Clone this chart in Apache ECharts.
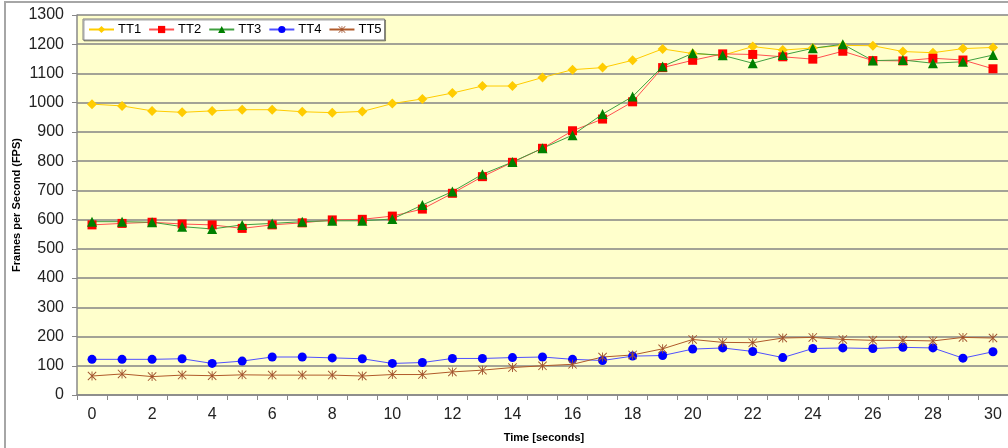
<!DOCTYPE html>
<html>
<head>
<meta charset="utf-8">
<script src="https://cdn.jsdelivr.net/npm/echarts@6/dist/echarts.min.js"></script>
<style>
html,body{margin:0;padding:0;background:#fff;}
#c{width:1008px;height:448px;}
</style>
</head>
<body>
<div id="c"></div>
<script>
const categories = ['0','1','2','3','4','5','6','7','8','9','10','11','12','13','14','15','16','17','18','19','20','21','22','23','24','25','26','27','28','29','30'];
const seriesNames = ['TT1','TT2','TT3','TT4','TT5'];
const tt1 = [995, 989, 972, 967, 972, 976, 976, 969, 966, 970, 997, 1013, 1033, 1057, 1057, 1086, 1113, 1120, 1145, 1184, 1168, 1162, 1192, 1180, 1187, 1196, 1195, 1175, 1171, 1185, 1189];
const tt2 = [582, 587, 591, 585, 582, 570, 582, 589, 599, 601, 612, 636, 690, 747, 796, 844, 904, 944, 1003, 1120, 1145, 1167, 1165, 1157, 1149, 1176, 1144, 1143, 1152, 1146, 1116];
const tt3 = [593, 593, 591, 576, 568, 582, 587, 593, 596, 596, 602, 650, 696, 755, 797, 844, 889, 961, 1021, 1124, 1169, 1162, 1135, 1163, 1186, 1200, 1144, 1146, 1135, 1140, 1163];
const tt4 = [122, 122, 122, 124, 108, 116, 130, 130, 127, 124, 108, 111, 125, 125, 128, 130, 122, 118, 133, 135, 157, 161, 149, 128, 159, 161, 159, 163, 161, 126, 148];
const tt5 = [65, 72, 63, 68, 66, 69, 68, 68, 68, 65, 70, 70, 79, 85, 94, 100, 105, 130, 137, 158, 190, 180, 179, 195, 197, 190, 187, 187, 185, 197, 195];
const xTitle = 'Time [seconds]';
const yTitle = 'Frames per Second (FPS)';

const FONT = '"Liberation Sans", Arial, sans-serif';
const starPath = 'path://M4.5 0L5.5 0L5.5 10L4.5 10Z M0 0.7L0.7 0L10 9.3L9.3 10Z M9.3 0L10 0.7L0.7 10L0 9.3Z';

function mk(name, data, color, lineColor, symbol, size) {
  return {
    name: name, type: 'line', data: data,
    symbol: symbol, symbolSize: size,
    itemStyle: { color: color },
    lineStyle: { color: lineColor, width: 1 },
    emphasis: { disabled: true },
    animation: false
  };
}

const chart = echarts.init(document.getElementById('c'), null, { renderer: 'canvas' });
chart.setOption({
  animation: false,
  backgroundColor: '#ffffff',
  textStyle: { fontFamily: FONT },
  graphic: [
    { type: 'rect', shape: { x: 5, y: 2, width: 1200, height: 600 }, style: { fill: null, stroke: '#a6a6a6', lineWidth: 2 }, z: -10 },
    { type: 'text', x: 17, y: 205, rotation: Math.PI / 2, style: { text: yTitle, font: 'bold 11px ' + FONT, fill: '#000', align: 'center', verticalAlign: 'middle' } },
    { type: 'text', x: 544, y: 438, style: { text: xTitle, font: 'bold 11px ' + FONT, fill: '#000', align: 'center', verticalAlign: 'middle' } }
  ],
  legend: {
    data: seriesNames,
    left: 83, top: 19,
    orient: 'horizontal',
    itemWidth: 25, itemHeight: 9, itemGap: 7,
    padding: [4, 3, 4, 5],
    backgroundColor: '#ffffff',
    borderColor: '#808080', borderWidth: 1,
    shadowColor: 'rgba(0,0,0,0.35)', shadowOffsetX: 1, shadowOffsetY: 1, shadowBlur: 0,
    textStyle: { fontSize: 13, color: '#000', fontFamily: FONT, padding: [0, 0, 0, -1] }
  },
  grid: {
    left: 77, top: 15, right: -2, bottom: 53,
    show: true, backgroundColor: '#FFFFCC', borderWidth: 0,
    containLabel: false
  },
  xAxis: {
    type: 'category', data: categories, boundaryGap: true,
    axisLine: { lineStyle: { color: '#888', width: 1.5 } },
    axisTick: { show: true, interval: 0, length: 5, lineStyle: { color: '#888' } },
    axisLabel: { interval: 1, fontSize: 16, color: '#222', margin: 12, fontFamily: FONT },
    splitLine: { show: false }
  },
  yAxis: {
    type: 'value', min: 0, max: 1300, interval: 100,
    axisLine: { show: true, lineStyle: { color: '#888', width: 1.5 } },
    axisTick: { show: true, length: 5, lineStyle: { color: '#888' } },
    axisLabel: { fontSize: 16, color: '#222', margin: 13, fontFamily: FONT, formatter: function (v) { return String(v); } },
    splitLine: { show: true, lineStyle: { color: '#858585', width: 1.5 } }
  },
  series: [
    mk('TT1', tt1, '#FFCC00', '#FFCC00', 'diamond', 10),
    mk('TT2', tt2, '#FF0000', '#FF5050', 'rect', 9),
    mk('TT3', tt3, '#008000', '#40A040', 'triangle', 10),
    mk('TT4', tt4, '#0000FF', '#5050FF', 'circle', 9),
    mk('TT5', tt5, '#A0522D', '#B05A2A', starPath, 9)
  ]
});
</script>
</body>
</html>
